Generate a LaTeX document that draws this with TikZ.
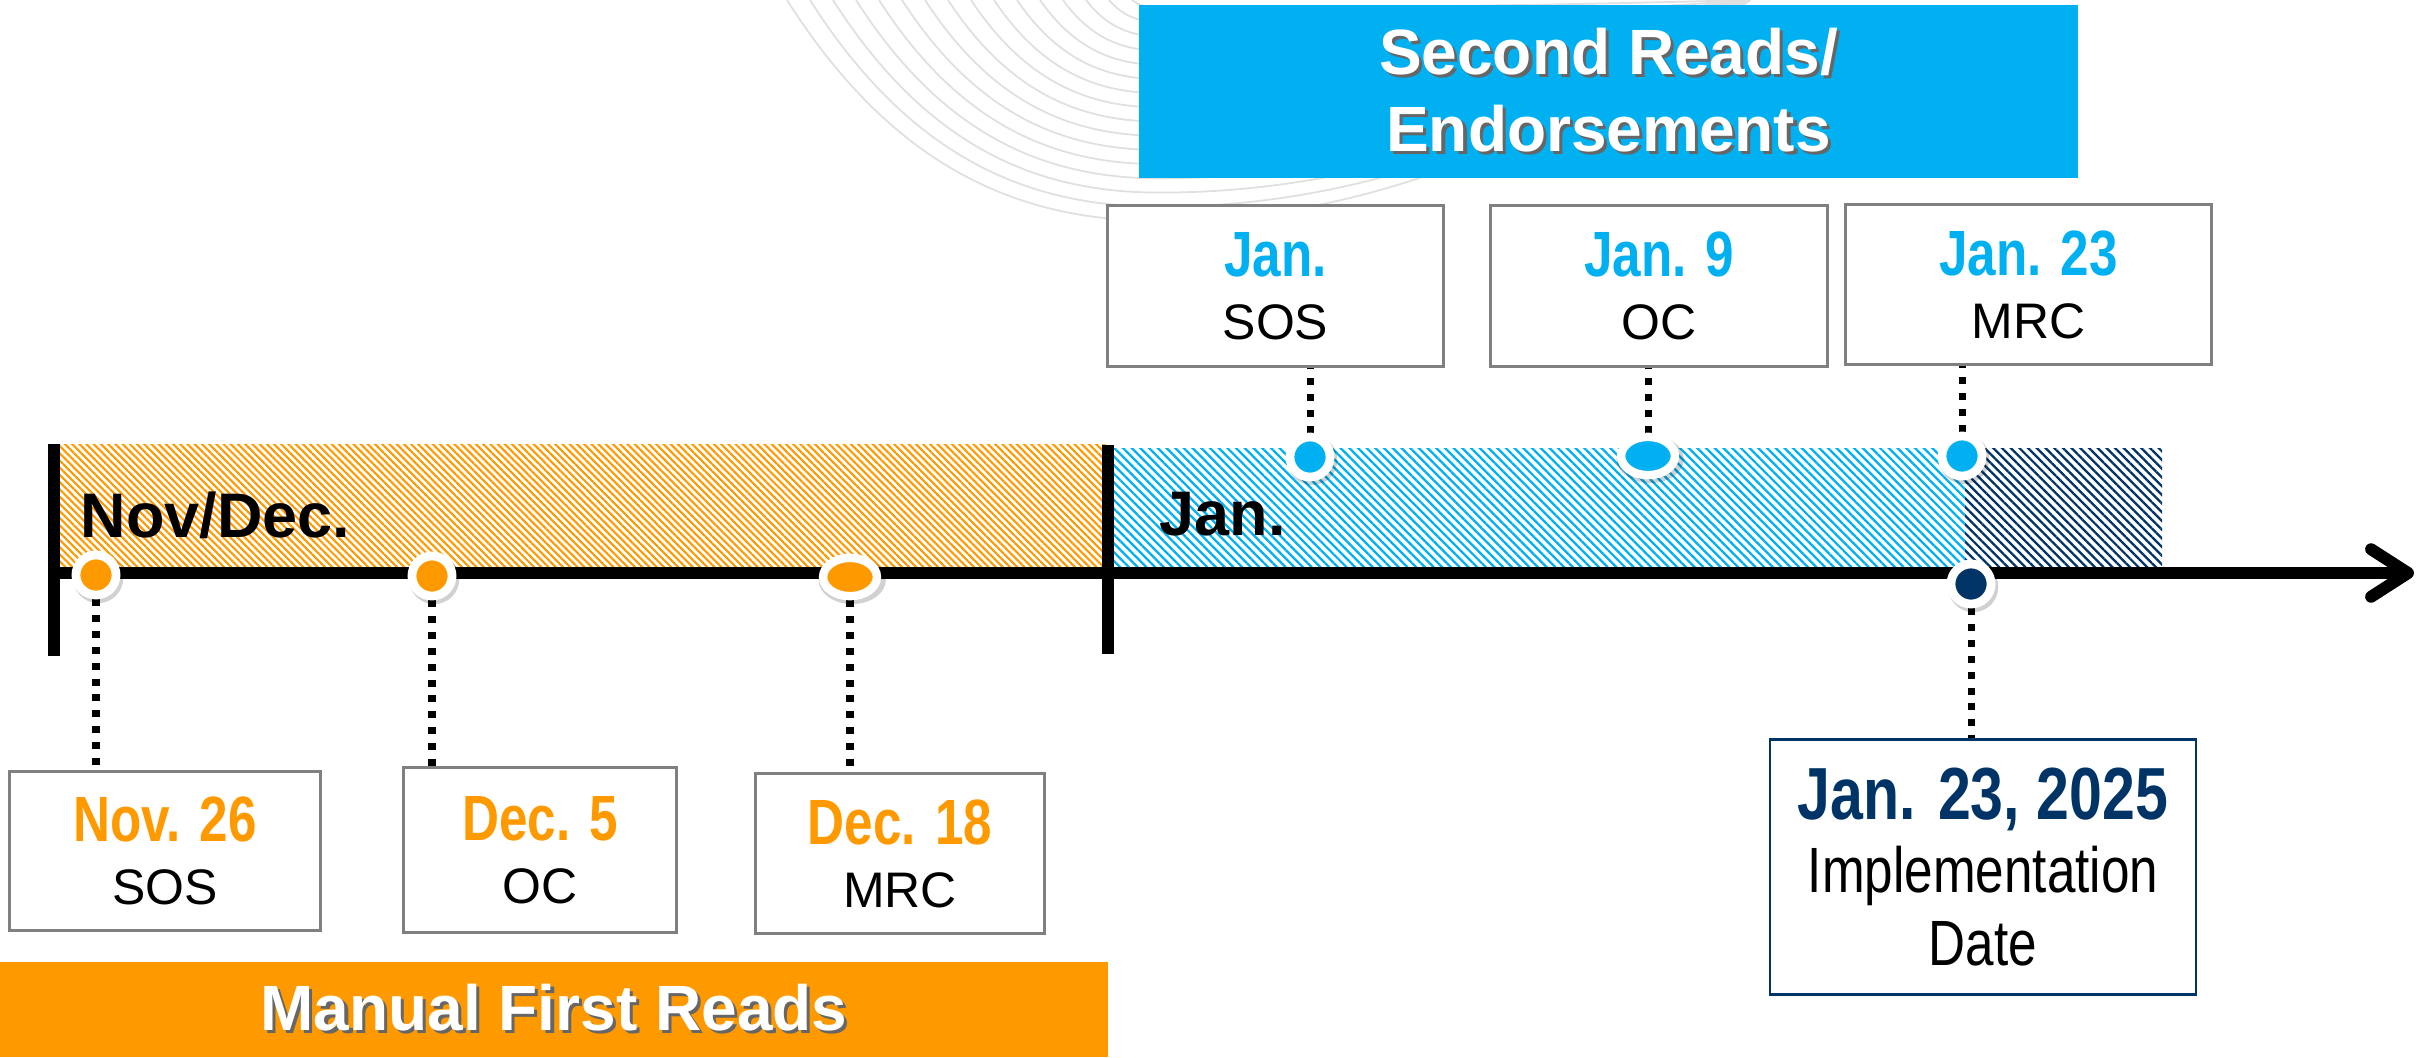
\documentclass[tikz,border=0pt]{standalone}
\usepackage{fontspec}
\setmainfont{Liberation Sans}
\newfontfamily\narrowfont[FakeStretch=0.8]{Liberation Sans}
\usetikzlibrary{arrows.meta,patterns.meta,shapes.geometric,shadows,backgrounds}

\definecolor{orng}{HTML}{FF9900}
\definecolor{skyb}{HTML}{00B0F0}
\definecolor{navy}{HTML}{003366}

\newcommand{\shadowed}[1]{\makebox[0pt][l]{\hspace{0.9pt}\raisebox{-0.9pt}{\textcolor{black!60}{#1}}}#1}
\newcommand{\when}[2]{{\narrowfont\bfseries\fontsize{18.2pt}{18pt}\selectfont\color{#1}#2}}

\tikzset{
    swirl/.style={draw=black!12, line width=0.5pt},
    orhatch/.style={pattern={Lines[angle=-45,distance=1.45pt,line width=0.6pt]}, pattern color=orng},
    skhatch/.style={pattern={Lines[angle=-45,distance=1.75pt,line width=0.65pt]}, pattern color=skyb},
    nvhatch/.style={pattern={Lines[angle=-45,distance=1.75pt,line width=0.65pt]}, pattern color=navy},
    timeline/.style={line width=3.4pt, -{Straight Barb[length=10.5pt,width=13.5pt,round]}},
    stem/.style={line width=3.4pt},
    period/.style={font=\bfseries\fontsize{17.9pt}{20pt}\selectfont, inner sep=0pt},
    bar/.style={text=white, align=center, inner sep=0pt,
        font=\bfseries\fontsize{18.2pt}{21.9pt}\selectfont},
    datebox/.style={draw=black!50, line width=0.85pt, fill=white, align=center, inner sep=0pt,
        font=\fontsize{14.2pt}{17.9pt}\selectfont},
    implbox/.style={draw=navy, line width=0.7pt, fill=white, align=center, inner sep=0pt,
        font=\narrowfont\fontsize{18.2pt}{20.8pt}\selectfont},
    dotshadow/.style={drop shadow={shadow xshift=0.5pt, shadow yshift=-0.7pt, shadow scale=1.25, opacity=0.18, fill=black}},
    ring/.style={circle, draw=white, line width=2.5pt, inner sep=0pt, minimum size=11.4pt, dotshadow},
    ringwide/.style={ellipse, draw=white, line width=2.4pt, inner sep=0pt, minimum width=15.3pt, minimum height=10.9pt, dotshadow},
    leader/.style={draw=black, line width=2pt, dash pattern=on 2pt off 2.5pt}
}

\begin{document}
\begin{tikzpicture}[x=0.01cm, y=-0.01cm]
    \useasboundingbox (0,0) rectangle (2430,1057);
    \begin{scope}[on background layer]
        \fill[white] (0,0) rectangle (2430,1057);
    \end{scope}

    % faint swirl behind the header
    \foreach \i in {0,...,15}{
        \pgfmathsetmacro\sx{1132-23*\i}
        \pgfmathsetmacro\by{8+14.2*\i}
        \pgfmathsetmacro\ca{\sx+0.3*(1160-\sx)}
        \pgfmathsetmacro\cb{1160-0.35*(1160-\sx)}
        \pgfmathsetmacro\cy{0.8*\by}
        \pgfmathsetmacro\dy{0.5*\by}
        \draw[swirl]
            (\sx,0) .. controls (\ca,\cy) and (\cb,\by) .. (1160,\by)
            .. controls (1400,\by) and (1600,\dy) .. (1750,0);
    }

    % hatched periods
    \path[orhatch] (60,444) rectangle (1108,567);
    \path[skhatch] (1108,448) rectangle (1965,567);
    \path[nvhatch] (1965,448) rectangle (2162,567);

    % time axis
    \draw[timeline] (54,573) -- (2414,573);
    \draw[stem] (54,444) -- (54,656);
    \draw[stem] (1108,445) -- (1108,654);

    \node[period, anchor=base west] (lNovDec) at (80,537) {Nov/Dec.};
    \node[period, anchor=base west] (lJan) at (1159,535) {Jan.};

    % headers
    \node[bar, fill=skyb, minimum width=9.39cm, minimum height=1.73cm] (barSecond)
        at (1608.5,91.5) {\shadowed{Second Reads/}\\\shadowed{Endorsements}};
    \node[bar, fill=orng, minimum width=11.08cm, minimum height=0.95cm] (barFirst)
        at (554,1009.5) {\shadowed{Manual First Reads}};

    % first reads
    \node[datebox, minimum width=3.1cm, minimum height=1.58cm] (bNov)
        at (165,851) {\when{orng}{Nov. 26}\\SOS};
    \node[datebox, minimum width=2.72cm, minimum height=1.64cm] (bDecA)
        at (540,850) {\when{orng}{Dec. 5}\\OC};
    \node[datebox, minimum width=2.88cm, minimum height=1.59cm] (bDecB)
        at (900,853.5) {\when{orng}{Dec. 18}\\MRC};

    % second reads
    \node[datebox, minimum width=3.35cm, minimum height=1.6cm] (bJanA)
        at (1275.5,286) {\when{skyb}{Jan.}\\SOS};
    \node[datebox, minimum width=3.36cm, minimum height=1.6cm] (bJanB)
        at (1659,286) {\when{skyb}{Jan. 9}\\OC};
    \node[datebox, minimum width=3.65cm, minimum height=1.59cm] (bJanC)
        at (2028.5,284.5) {\when{skyb}{Jan. 23}\\MRC};

    % implementation
    \node[implbox, minimum width=4.26cm, minimum height=2.55cm] (bImpl)
        at (1983,867) {{\bfseries\fontsize{21pt}{21pt}\selectfont\color{navy}Jan. 23, 2025}\\Implementation\\Date};

    % markers
    \node[ring, fill=orng] (dNov) at (96,575) {};
    \node[ring, fill=orng] (dDecA) at (432,576) {};
    \node[ringwide, fill=orng] (dDecB) at (850,577) {};
    \node[ring, fill=skyb] (dJanA) at (1310,457) {};
    \node[ringwide, fill=skyb] (dJanB) at (1648,456) {};
    \node[ring, fill=skyb] (dJanC) at (1962,456) {};
    \node[ring, fill=navy] (dImpl) at (1971,584) {};

    \begin{scope}[on background layer]
        \draw[leader] (dNov) -- (dNov |- bNov.north);
        \draw[leader] (dDecA) -- (dDecA |- bDecA.north);
        \draw[leader] (dDecB) -- (dDecB |- bDecB.north);
        \draw[leader] (dJanA) -- (dJanA |- bJanA.south);
        \draw[leader] (dJanB) -- (dJanB |- bJanB.south);
        \draw[leader] (dJanC) -- (dJanC |- bJanC.south);
        \draw[leader] (dImpl) -- (dImpl |- bImpl.north);
    \end{scope}
\end{tikzpicture}
\end{document}
